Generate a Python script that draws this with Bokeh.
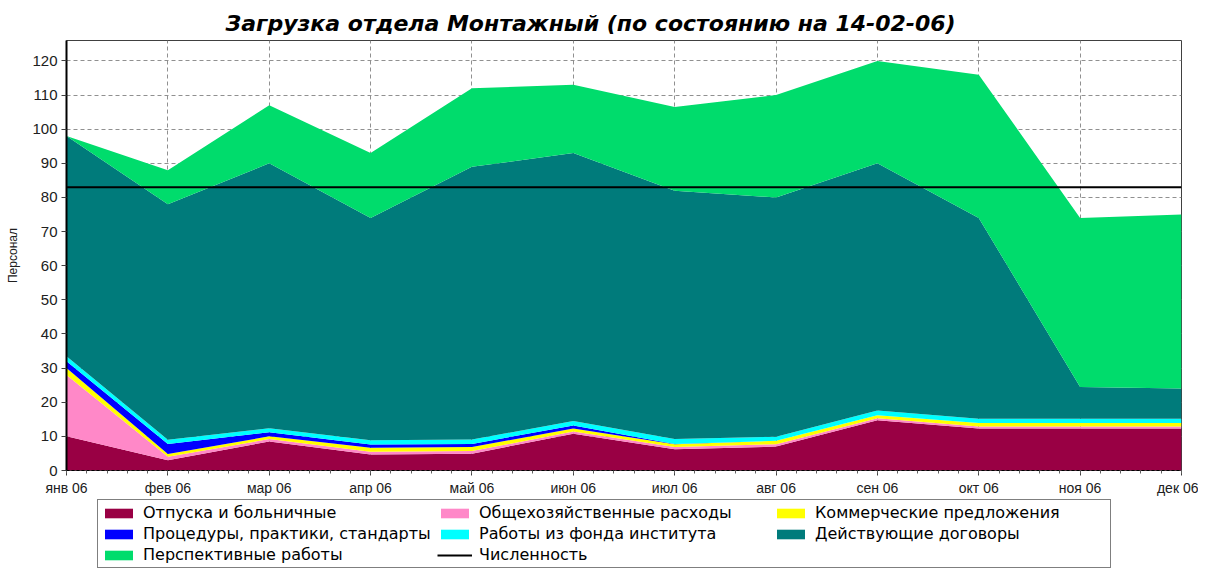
from bokeh.plotting import figure
from bokeh.layouts import column
from bokeh.models import ColumnDataSource, FixedTicker, Legend, LegendItem, Title
from bokeh.embed import file_html
from bokeh.resources import INLINE

months = ["янв 06", "фев 06", "мар 06", "апр 06", "май 06", "июн 06",
          "июл 06", "авг 06", "сен 06", "окт 06", "ноя 06", "дек 06"]
vacations = [10, 3, 8.5, 4.7, 4.9, 10.8, 6.2, 7.0, 14.7, 12.3, 12.3, 12.3]
overhead = [18, 1, 0.7, 0.8, 0.8, 0.6, 0.7, 0.7, 0.6, 0.6, 0.6, 0.6]
commercial = [2, 0.8, 0.8, 1.2, 1.2, 0.9, 0.8, 1.0, 0.9, 1.0, 1.0, 1.0]
procedures = [2, 3, 1.2, 0.9, 0.9, 0.9, 0.1, 0, 0, 0, 0, 0]
institute = [1.5, 1.2, 1.2, 1.3, 1.3, 1.3, 1.4, 1.2, 1.4, 1.3, 1.3, 1.3]
contracts = [64.5, 69, 77.6, 65.1, 79.9, 78.5, 72.8, 70.1, 72.4, 58.8, 9.3, 8.8]
prospective = [0, 10, 17, 19, 23, 20, 24.5, 30, 30, 42, 49.5, 51]
headcount = [83, 83, 83, 83, 83, 83, 83, 83, 83, 83, 83, 83]

series_names = ["Отпуска и больничные", "Общехозяйственные расходы", "Коммерческие предложения",
                "Процедуры, практики, стандарты", "Работы из фонда института", "Действующие договоры",
                "Перспективные работы"]
line_name = "Численность"
colors = ["#990044", "#ff88c8", "#ffff00", "#0000ff", "#00ffff", "#007b7b", "#00dc6c"]

x = list(range(len(months)))
keys = ["vac", "ovh", "com", "proc", "inst", "contr", "persp"]
source = ColumnDataSource(dict(x=x, vac=vacations, ovh=overhead, com=commercial, proc=procedures,
                               inst=institute, contr=contracts, persp=prospective, head=headcount))

FONT = "Liberation Sans"

p = figure(width=1198, height=498, output_backend="svg", toolbar_location=None,
           x_range=(0, 11), y_range=(0, 126),
           min_border_left=66, min_border_right=17, min_border_top=40, min_border_bottom=27)
p.title = Title(text="Загрузка отдела Монтажный (по состоянию на 14-02-06)", align="left",
                text_font="DejaVu Sans", text_font_size="22px", text_font_style="bold italic",
                text_color="black", offset=159)

p.varea_stack(stackers=keys, x="x", color=colors, source=source)
p.line(x="x", y="head", source=source, line_color="black", line_width=2)

p.xaxis.ticker = FixedTicker(ticks=x, minor_ticks=[i / 5 for i in range(56)])
p.xaxis.major_label_overrides = {i: m for i, m in enumerate(months)}
p.yaxis.ticker = FixedTicker(ticks=list(range(0, 121, 10)))
p.yaxis.axis_label = "Персонал"
p.yaxis.axis_label_text_font = FONT
p.yaxis.axis_label_text_font_size = "12px"
p.yaxis.axis_label_text_font_style = "normal"
p.yaxis.axis_label_text_color = "#202020"
p.yaxis.axis_label_standoff = 9

for ax in (p.xaxis[0], p.yaxis[0]):
    ax.major_label_text_font = FONT
    ax.major_label_text_color = "#202020"
    ax.major_tick_out = 5
    ax.major_tick_in = 0
    ax.minor_tick_in = 0
    ax.major_tick_line_color = "#404040"
    ax.minor_tick_line_color = "#606060"
    ax.major_label_standoff = 4
p.xaxis.major_label_text_font_size = "14px"
p.yaxis.major_label_text_font_size = "15px"

p.yaxis.minor_tick_out = 0
p.xaxis.minor_tick_out = 3
p.yaxis.axis_line_width = 2
p.yaxis.axis_line_color = "black"
p.xaxis.axis_line_color = "black"
p.xaxis.axis_line_dash = "3 2"

p.grid.grid_line_color = "#909090"
p.grid.grid_line_dash = "4 3"
p.grid.grid_line_width = 1
p.outline_line_color = "#404040"
p.background_fill_color = "white"

# legend panel (separate figure below the chart; its value range hides the proxy glyphs)
lg = figure(width=1198, height=71, output_backend="svg", toolbar_location=None,
            x_range=(0, 1), y_range=(0, 1), x_axis_type=None, y_axis_type=None,
            min_border_left=66, min_border_right=17, min_border_top=0, min_border_bottom=0,
            outline_line_color=None)
lg.grid.visible = False
items = []
for n, c in zip(series_names, colors):
    r = lg.varea(x="x", y1="head", y2="head", source=source, fill_color=c)
    items.append(LegendItem(label=n, renderers=[r]))
rl = lg.line(x="x", y="head", source=source, line_color="black", line_width=2)
items.append(LegendItem(label=line_name, renderers=[rl]))
legend = Legend(items=items, orientation="horizontal", ncols=3, location=(31, 1),
                glyph_width=35, glyph_height=12, label_height=15, label_width=292,
                label_standoff=7, spacing=2, padding=3, margin=0,
                label_text_font="DejaVu Sans", label_text_font_size="16px",
                label_text_color="black",
                border_line_color="black", border_line_width=1,
                background_fill_color="white", background_fill_alpha=1)
lg.add_layout(legend, "center")

layout = column(p, lg, spacing=0)
open("out.html", "w").write(file_html(layout, INLINE))
